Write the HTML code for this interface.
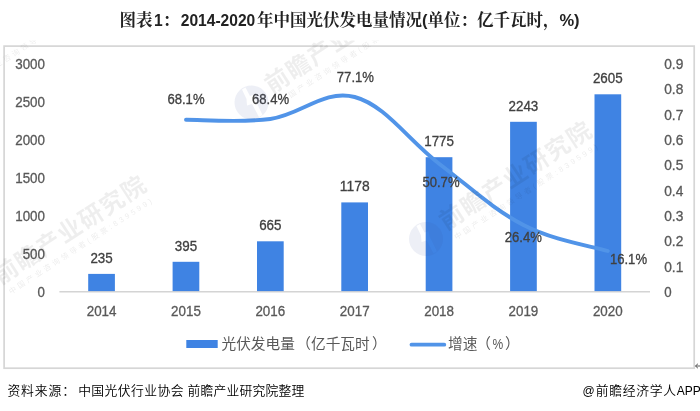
<!DOCTYPE html>
<html lang="zh-CN">
<head>
<meta charset="utf-8">
<title>图表1：2014-2020年中国光伏发电量情况</title>
<style>
html,body{margin:0;padding:0;background:#fff;}
body{width:700px;height:411px;position:relative;overflow:hidden;font-family:"Liberation Sans","Noto Sans CJK SC",sans-serif;}
.title{position:absolute;left:-0.5px;top:8px;width:700px;text-align:center;font-size:16.5px;line-height:24px;font-weight:bold;color:#222;white-space:nowrap;font-family:"Liberation Sans","Noto Serif CJK SC",serif;}
.title .n{font-size:15.6px;}
.app .l{font-size:12px;letter-spacing:0;}
.src{position:absolute;left:7.4px;top:381px;font-weight:350;font-size:12.8px;line-height:20px;color:#000;white-space:nowrap;font-family:"Liberation Sans","Noto Sans CJK SC",sans-serif;}
.app{position:absolute;left:582.4px;top:381px;font-weight:350;font-size:12.8px;letter-spacing:0.7px;line-height:20px;color:#000;white-space:nowrap;font-family:"Liberation Sans","Noto Sans CJK SC",sans-serif;}
</style>
</head>
<body>
<svg width="700" height="411" viewBox="0 0 700 411" style="position:absolute;left:0;top:0">
<rect x="4.1" y="46.1" width="690.1" height="322.1" fill="#fff" stroke="#d6d6d6" stroke-width="1.7"/>
<line x1="59.4" y1="291.7" x2="650.0" y2="291.7" stroke="#d4d4d4" stroke-width="1.5"/>
<rect x="88.2" y="273.9" width="26.7" height="17.2" fill="#3f83e3"/>
<rect x="172.6" y="261.8" width="26.7" height="29.3" fill="#3f83e3"/>
<rect x="257.0" y="241.3" width="26.7" height="49.8" fill="#3f83e3"/>
<rect x="341.3" y="202.4" width="26.7" height="88.7" fill="#3f83e3"/>
<rect x="425.7" y="157.2" width="26.7" height="133.9" fill="#3f83e3"/>
<rect x="510.1" y="121.8" width="26.7" height="169.3" fill="#3f83e3"/>
<rect x="594.5" y="94.3" width="26.7" height="196.8" fill="#3f83e3"/>
<path d="M186.0,119.7 C201.3,119.6 239.6,123.1 270.3,119.0 C301.0,114.8 324.0,88.9 354.7,97.0 C385.4,105.1 408.4,140.4 439.1,163.7 C469.8,186.9 492.8,209.1 523.4,225.0 C554.1,240.9 592.5,246.3 607.8,251.0" fill="none" stroke="#5194e8" stroke-width="3.9" stroke-linecap="round" stroke-linejoin="round"/>
<g font-family="'Liberation Sans', 'Noto Sans CJK SC', sans-serif" font-size="14.0" fill="#595959" stroke="#595959" stroke-width="0.3">
<text x="45.0" y="296.8" text-anchor="end" textLength="7.4" lengthAdjust="spacingAndGlyphs">0</text>
<text x="45.0" y="258.8" text-anchor="end" textLength="22.3" lengthAdjust="spacingAndGlyphs">500</text>
<text x="45.0" y="220.8" text-anchor="end" textLength="29.8" lengthAdjust="spacingAndGlyphs">1000</text>
<text x="45.0" y="182.9" text-anchor="end" textLength="29.8" lengthAdjust="spacingAndGlyphs">1500</text>
<text x="45.0" y="144.9" text-anchor="end" textLength="29.8" lengthAdjust="spacingAndGlyphs">2000</text>
<text x="45.0" y="106.9" text-anchor="end" textLength="29.8" lengthAdjust="spacingAndGlyphs">2500</text>
<text x="45.0" y="68.9" text-anchor="end" textLength="29.8" lengthAdjust="spacingAndGlyphs">3000</text>
<text x="664.2" y="296.8" textLength="7.4" lengthAdjust="spacingAndGlyphs">0</text>
<text x="664.2" y="271.5" textLength="19.1" lengthAdjust="spacingAndGlyphs">0.1</text>
<text x="664.2" y="246.2" textLength="19.1" lengthAdjust="spacingAndGlyphs">0.2</text>
<text x="664.2" y="220.8" textLength="19.1" lengthAdjust="spacingAndGlyphs">0.3</text>
<text x="664.2" y="195.5" textLength="19.1" lengthAdjust="spacingAndGlyphs">0.4</text>
<text x="664.2" y="170.2" textLength="19.1" lengthAdjust="spacingAndGlyphs">0.5</text>
<text x="664.2" y="144.9" textLength="19.1" lengthAdjust="spacingAndGlyphs">0.6</text>
<text x="664.2" y="119.5" textLength="19.1" lengthAdjust="spacingAndGlyphs">0.7</text>
<text x="664.2" y="94.2" textLength="19.1" lengthAdjust="spacingAndGlyphs">0.8</text>
<text x="664.2" y="68.9" textLength="19.1" lengthAdjust="spacingAndGlyphs">0.9</text>
<text x="101.6" y="315.9" text-anchor="middle" textLength="29.8" lengthAdjust="spacingAndGlyphs">2014</text>
<text x="186.0" y="315.9" text-anchor="middle" textLength="29.8" lengthAdjust="spacingAndGlyphs">2015</text>
<text x="270.3" y="315.9" text-anchor="middle" textLength="29.8" lengthAdjust="spacingAndGlyphs">2016</text>
<text x="354.7" y="315.9" text-anchor="middle" textLength="29.8" lengthAdjust="spacingAndGlyphs">2017</text>
<text x="439.1" y="315.9" text-anchor="middle" textLength="29.8" lengthAdjust="spacingAndGlyphs">2018</text>
<text x="523.4" y="315.9" text-anchor="middle" textLength="29.8" lengthAdjust="spacingAndGlyphs">2019</text>
<text x="607.8" y="315.9" text-anchor="middle" textLength="29.8" lengthAdjust="spacingAndGlyphs">2020</text>
</g>
<g font-family="'Liberation Sans', 'Noto Sans CJK SC', sans-serif" font-size="14.0" fill="#404040" stroke="#404040" stroke-width="0.3">
<text x="101.6" y="262.8" text-anchor="middle" textLength="22.3" lengthAdjust="spacingAndGlyphs">235</text>
<text x="186.0" y="250.7" text-anchor="middle" textLength="22.3" lengthAdjust="spacingAndGlyphs">395</text>
<text x="270.3" y="230.2" text-anchor="middle" textLength="22.3" lengthAdjust="spacingAndGlyphs">665</text>
<text x="354.7" y="191.3" text-anchor="middle" textLength="29.8" lengthAdjust="spacingAndGlyphs">1178</text>
<text x="439.1" y="146.1" text-anchor="middle" textLength="29.8" lengthAdjust="spacingAndGlyphs">1775</text>
<text x="523.4" y="110.7" text-anchor="middle" textLength="29.8" lengthAdjust="spacingAndGlyphs">2243</text>
<text x="607.8" y="83.2" text-anchor="middle" textLength="29.8" lengthAdjust="spacingAndGlyphs">2605</text>
<text x="186.0" y="104.4" text-anchor="middle" textLength="37.1" lengthAdjust="spacingAndGlyphs">68.1%</text>
<text x="270.6" y="104.4" text-anchor="middle" textLength="37.1" lengthAdjust="spacingAndGlyphs">68.4%</text>
<text x="355.4" y="81.6" text-anchor="middle" textLength="37.1" lengthAdjust="spacingAndGlyphs">77.1%</text>
<text x="441.0" y="186.8" text-anchor="middle" textLength="37.1" lengthAdjust="spacingAndGlyphs">50.7%</text>
<text x="523.3" y="242.3" text-anchor="middle" textLength="37.1" lengthAdjust="spacingAndGlyphs">26.4%</text>
<text x="628.5" y="264.3" text-anchor="middle" textLength="37.1" lengthAdjust="spacingAndGlyphs">16.1%</text>
</g>
<clipPath id="wmclip"><rect x="0" y="40.5" width="700" height="334"/></clipPath>
<g clip-path="url(#wmclip)">
<g transform="translate(251.5,102.5) rotate(-33)">
<path fill="#3a4d9a" fill-opacity="0.09" fill-rule="evenodd" transform="rotate(33)" d="M17,0 A17,17 0 1 1 -17,0 A17,17 0 1 1 17,0 Z M-9.5,-13 L-6,-15 L-1.5,-6.5 L2.5,-8 L4,-2 L11,12.5 L7.5,14.5 L0.5,1.5 L-4.5,3 L-5,-3.5 Z"/>
<text x="21.5" y="4" font-family="'Liberation Sans', 'Noto Sans CJK SC', sans-serif" font-size="24" font-weight="bold" letter-spacing="1.3" fill="#000" fill-opacity="0.068">前瞻产业研究院</text>
<text x="25" y="17.5" font-family="'Liberation Sans', 'Noto Sans CJK SC', sans-serif" font-size="7.5" letter-spacing="2.85" fill="#000" fill-opacity="0.08">中国产业咨询领导者(股票:839599)</text>
</g>
<g transform="translate(426,239) rotate(-33)">
<path fill="#3a4d9a" fill-opacity="0.09" fill-rule="evenodd" transform="rotate(33)" d="M17,0 A17,17 0 1 1 -17,0 A17,17 0 1 1 17,0 Z M-9.5,-13 L-6,-15 L-1.5,-6.5 L2.5,-8 L4,-2 L11,12.5 L7.5,14.5 L0.5,1.5 L-4.5,3 L-5,-3.5 Z"/>
<text x="21.5" y="4" font-family="'Liberation Sans', 'Noto Sans CJK SC', sans-serif" font-size="24" font-weight="bold" letter-spacing="1.3" fill="#000" fill-opacity="0.068">前瞻产业研究院</text>
<text x="25" y="17.5" font-family="'Liberation Sans', 'Noto Sans CJK SC', sans-serif" font-size="7.5" letter-spacing="2.85" fill="#000" fill-opacity="0.08">中国产业咨询领导者(股票:839599)</text>
</g>
<g transform="translate(-19.6,293.4) rotate(-33)">
<text x="21.5" y="4" font-family="'Liberation Sans', 'Noto Sans CJK SC', sans-serif" font-size="24" font-weight="bold" letter-spacing="1.3" fill="#000" fill-opacity="0.068">前瞻产业研究院</text>
<text x="25" y="17.5" font-family="'Liberation Sans', 'Noto Sans CJK SC', sans-serif" font-size="7.5" letter-spacing="2.85" fill="#000" fill-opacity="0.08">中国产业咨询领导者(股票:839599)</text>
</g>
<g transform="translate(-60,84) rotate(-33)">
<text x="25" y="17.5" font-family="'Liberation Sans', 'Noto Sans CJK SC', sans-serif" font-size="7.5" letter-spacing="2.85" fill="#000" fill-opacity="0.08">中国产业咨询领导者(股票:839599)</text>
</g>
</g>
<rect x="186.3" y="340" width="31.4" height="8" fill="#3f83e3"/>
<line x1="411.5" y1="344.7" x2="444.3" y2="344.7" stroke="#5194e8" stroke-width="3.8" stroke-linecap="round"/>
<g font-family="'Liberation Sans', 'Noto Sans CJK SC', sans-serif" font-size="14.67" fill="#595959">
<text x="221.5" y="349.4">光伏发电量<tspan dx="1.5">（</tspan>亿千瓦时<tspan dx="2.5">）</tspan></text>
<text x="448" y="349.4">增速<tspan dx="-1">（</tspan></text>
<text x="492.4" y="349.4" textLength="10.7" lengthAdjust="spacingAndGlyphs">%</text>
<text x="505" y="349.4">）</text>
</g>
<path d="M695.5,366 H700 M695.5,366 l2.4,-2.2 M695.5,366 l2.4,2.2" stroke="#555" stroke-width="1" fill="none"/>
</svg>
<div class="title">图表<span class="n" style="margin:0 0 0 1.5px">1</span>：<span class="n" style="margin:0 1.6px 0 1.6px">2014-2020</span>年中国光伏发电量情况(单位：亿千瓦时，%)</div>
<div class="src"><span style="letter-spacing:0.93px">资料来源：</span><span style="letter-spacing:0.43px;margin-left:2.1px">中国光伏行业协会</span> <span style="letter-spacing:0.2px">前瞻产业研究院整理</span></div>
<div class="app"><span class="l" style="margin-right:1.2px">@</span>前瞻经济学人<span class="l">APP</span></div>
</body>
</html>
